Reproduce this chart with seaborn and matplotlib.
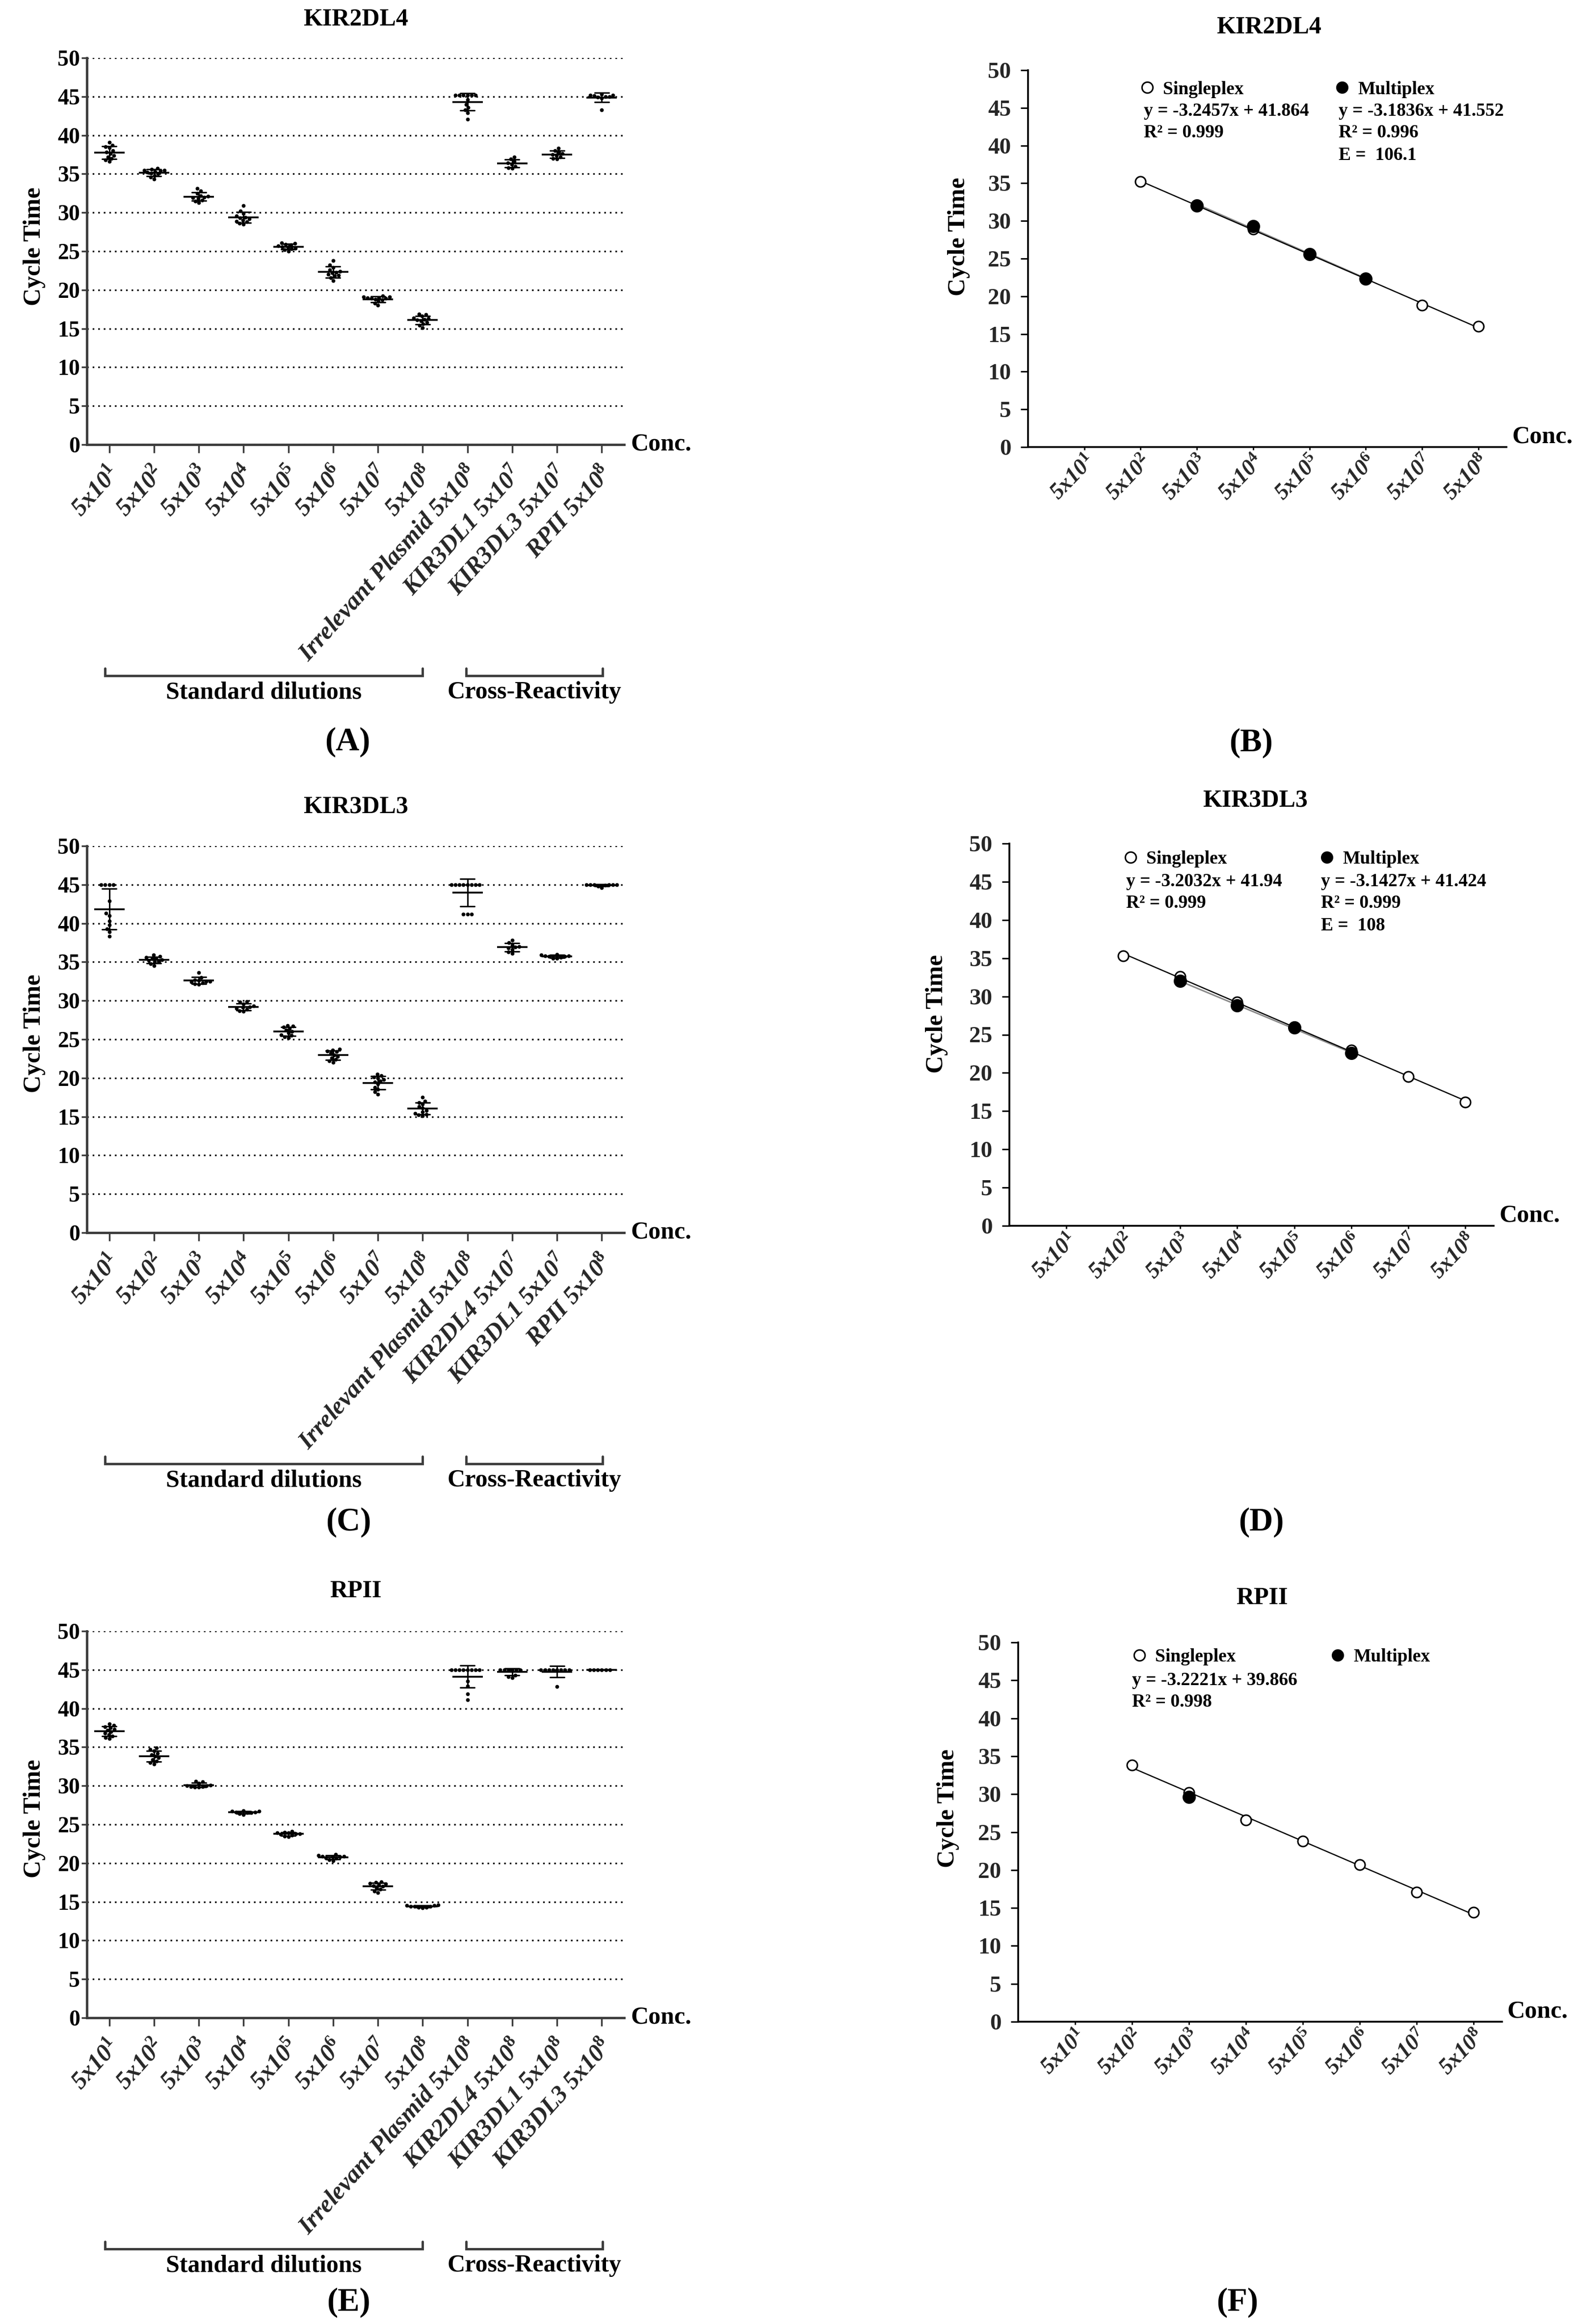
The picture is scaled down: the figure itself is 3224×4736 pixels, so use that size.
import numpy as np
import pandas as pd
import matplotlib
matplotlib.use("Agg")
import matplotlib.pyplot as plt
import matplotlib.transforms as mtransforms
from matplotlib.lines import Line2D
import seaborn as sns

# ------------------------------------------------------------------ data
std_labels = ['5x10$^{1}$', '5x10$^{2}$', '5x10$^{3}$', '5x10$^{4}$',
              '5x10$^{5}$', '5x10$^{6}$', '5x10$^{7}$', '5x10$^{8}$']
cross_A = ['Irrelevant Plasmid 5x10$^{8}$', 'KIR3DL1 5x10$^{7}$',
           'KIR3DL3 5x10$^{7}$', 'RPII 5x10$^{8}$']
cross_C = ['Irrelevant Plasmid 5x10$^{8}$', 'KIR2DL4 5x10$^{7}$',
           'KIR3DL1 5x10$^{7}$', 'RPII 5x10$^{8}$']
cross_E = ['Irrelevant Plasmid 5x10$^{8}$', 'KIR2DL4 5x10$^{8}$',
           'KIR3DL1 5x10$^{8}$', 'KIR3DL3 5x10$^{8}$']

# replicate Ct values (panel A: KIR2DL4)
reps_A = [
    [39.1, 38.7, 38.5, 38.4, 38.0, 37.8, 37.6, 37.4, 37.2, 37.0, 36.8, 36.6],
    [35.7, 35.6, 35.5, 35.5, 35.4, 35.3, 35.2, 35.1, 35.0, 34.8, 34.6, 34.3],
    [33.1, 32.8, 32.5, 32.2, 32.1, 32.0, 31.9, 31.8, 31.6, 31.5, 31.3],
    [30.9, 30.2, 29.9, 29.6, 29.4, 29.3, 29.2, 29.0, 28.9, 28.8, 28.6, 28.5],
    [26.1, 26.0, 25.9, 25.8, 25.7, 25.6, 25.5, 25.4, 25.3, 25.2, 25.0],
    [23.8, 23.2, 22.9, 22.6, 22.4, 22.3, 22.2, 22.0, 21.9, 21.8, 21.6, 21.2],
    [19.2, 19.1, 19.1, 19.0, 19.0, 18.9, 18.9, 18.8, 18.7, 18.5, 18.3, 18.0],
    [16.9, 16.8, 16.6, 16.4, 16.3, 16.2, 16.1, 16.0, 15.8, 15.6, 15.4, 15.1],
    [45.2, 45.2, 45.2, 45.2, 45.2, 45.2, 44.6, 44.0, 43.6, 43.3, 42.9, 42.1],
    [37.2, 36.9, 36.6, 36.4, 36.2, 36.0, 35.8, 35.7],
    [38.3, 38.0, 37.8, 37.6, 37.5, 37.4, 37.2, 37.0, 36.9],
    [45.3, 45.2, 45.2, 45.1, 45.0, 45.0, 44.9, 44.8, 43.3],
]
# panel C: KIR3DL3
reps_C = [
    [45.0, 45.0, 45.0, 45.0, 42.9, 41.3, 41.0, 40.3, 39.8, 39.3, 38.9, 38.3],
    [35.9, 35.7, 35.6, 35.5, 35.4, 35.3, 35.2, 35.1, 35.0, 34.8, 34.5],
    [33.6, 33.0, 32.7, 32.6, 32.5, 32.5, 32.4, 32.3, 32.2, 32.1],
    [29.9, 29.8, 29.6, 29.3, 29.2, 29.1, 29.0, 28.9, 28.7, 28.6],
    [26.8, 26.7, 26.6, 26.4, 26.2, 26.0, 25.8, 25.6, 25.5, 25.3, 25.2],
    [23.7, 23.6, 23.5, 23.4, 23.2, 23.0, 22.8, 22.6, 22.4, 22.2, 22.0],
    [20.5, 20.3, 20.1, 20.0, 19.8, 19.6, 19.5, 19.2, 18.8, 18.5, 18.2, 17.9],
    [17.5, 17.0, 16.8, 16.6, 16.3, 16.1, 15.8, 15.6, 15.4, 15.3, 15.2, 15.1],
    [45.0, 45.0, 45.0, 45.0, 45.0, 45.0, 45.0, 45.0, 41.2, 41.2, 41.2],
    [37.8, 37.5, 37.2, 37.0, 36.9, 36.8, 36.6, 36.3, 36.1],
    [36.0, 35.9, 35.8, 35.8, 35.7, 35.7, 35.6, 35.5, 35.5],
    [45.0, 45.0, 45.0, 45.0, 45.0, 45.0, 44.9, 44.8, 44.6],
]
# panel E: RPII
reps_E = [
    [38.0, 37.8, 37.6, 37.5, 37.3, 37.2, 37.0, 36.8, 36.6, 36.4, 36.2, 36.1],
    [34.9, 34.7, 34.5, 34.2, 34.0, 33.8, 33.6, 33.4, 33.2, 33.0, 32.8],
    [30.6, 30.5, 30.3, 30.1, 30.0, 30.0, 29.9, 29.9, 29.8, 29.8],
    [26.8, 26.7, 26.7, 26.6, 26.6, 26.5, 26.5, 26.4, 26.3],
    [24.1, 24.0, 23.9, 23.9, 23.8, 23.8, 23.7, 23.6, 23.5, 23.4],
    [21.1, 21.0, 20.9, 20.9, 20.8, 20.8, 20.7, 20.6, 20.4, 20.3],
    [17.6, 17.5, 17.4, 17.3, 17.2, 17.1, 17.0, 16.8, 16.6, 16.4, 16.2],
    [14.6, 14.5, 14.5, 14.4, 14.4, 14.4, 14.3, 14.3, 14.2],
    [45.0, 45.0, 45.0, 45.0, 45.0, 45.0, 45.0, 45.0, 43.5, 42.9, 41.9, 41.1],
    [45.0, 45.0, 45.0, 45.0, 45.0, 45.0, 44.3, 44.1, 44.0],
    [45.0, 45.0, 45.0, 45.0, 45.0, 45.0, 45.0, 45.0, 42.8],
    [45.0, 45.0, 45.0, 45.0, 45.0, 45.0],
]

# standard curves (x = exponent of 5x10^x)
curve_x = [1, 2, 3, 4, 5, 6, 7, 8]
B_xs = [2, 3, 4, 5, 6, 7, 8]
B_single = [35.2, 32.1, 28.9, 25.6, 22.3, 18.8, 16.0]
B_xm = [3, 4, 5, 6]
B_multi = [32.0, 29.3, 25.6, 22.3]
D_xs = [2, 3, 4, 5, 6, 7, 8]
D_single = [35.3, 32.6, 29.3, 26.0, 23.0, 19.5, 16.2]
D_xm = [3, 4, 5, 6]
D_multi = [32.0, 28.8, 25.9, 22.6]
F_xs = [2, 3, 4, 5, 6, 7, 8]
F_single = [33.8, 30.2, 26.6, 23.8, 20.7, 17.1, 14.4]
F_xm = [3]
F_multi = [29.6]

B_eq_single = ['y = -3.2457x + 41.864', 'R² = 0.999']
B_eq_multi = ['y = -3.1836x + 41.552', 'R² = 0.996', 'E =  106.1']
D_eq_single = ['y = -3.2032x + 41.94', 'R² = 0.999']
D_eq_multi = ['y = -3.1427x + 41.424', 'R² = 0.999', 'E =  108']
F_eq_single = ['y = -3.2221x + 39.866', 'R² = 0.998']
F_eq_multi = []

# ------------------------------------------------------------------ style
W, H, DPI = 3224, 4736, 100
sns.set_theme(style="white")
plt.rcParams['font.family'] = ['Liberation Serif', 'DejaVu Serif']
plt.rcParams['font.weight'] = 'bold'
plt.rcParams['mathtext.fontset'] = 'custom'
plt.rcParams['mathtext.rm'] = 'Liberation Serif'
plt.rcParams['mathtext.it'] = 'Liberation Serif:italic'
plt.rcParams['mathtext.bf'] = 'Liberation Serif:bold'
plt.rcParams['text.color'] = 'black'

fig = plt.figure(figsize=(W / DPI, H / DPI), dpi=DPI)
fig.patch.set_facecolor('white')


def rect(l, r, t, b):
    return [l / W, 1 - b / H, (r - l) / W, (b - t) / H]


def ftext(x, y, s, **kw):
    fig.text(x / W, 1 - y / H, s, **kw)


AX_GREY = '#3c3c3c'


def dot_panel(box, cats, reps, title, title_xy, ylab_xy, letter, letter_xy):
    l, r, t, b = box
    ax = fig.add_axes(rect(l, r, t, b))
    rows = [(c, v) for c, vals in zip(cats, reps) for v in vals]
    df = pd.DataFrame(rows, columns=['cat', 'ct'])
    sns.swarmplot(data=df, x='cat', y='ct', order=cats, color='black',
                  size=5.6, ax=ax, zorder=2)
    sns.pointplot(data=df, x='cat', y='ct', order=cats, errorbar='sd',
                  capsize=0.32, color='black', markers='_', linestyles='none',
                  markersize=44, markeredgewidth=2.6, linewidth=2.2,
                  err_kws={'linewidth': 2.2, 'zorder': 4}, zorder=4, ax=ax)
    ax.set_xlim(-0.5, len(cats) - 0.5)
    ax.set_ylim(0, 50)
    ax.set_yticks(np.arange(0, 51, 5))
    ax.set_xlabel('')
    ax.set_ylabel('')
    ax.yaxis.grid(True, color='black', linestyle=(0, (1, 2.4)), linewidth=2.4)
    ax.xaxis.grid(False)
    ax.set_axisbelow(True)
    for s in ['top', 'right']:
        ax.spines[s].set_visible(False)
    for s in ['left', 'bottom']:
        ax.spines[s].set_color(AX_GREY)
        ax.spines[s].set_linewidth(3.5)
        ax.spines[s].set_zorder(5)
    ax.tick_params(axis='y', left=True, direction='out', length=8, width=2.5,
                   color=AX_GREY, labelsize=33, pad=2, labelcolor='black')
    ax.tick_params(axis='x', bottom=True, direction='out', length=12, width=2.5,
                   color=AX_GREY, pad=14)
    ax.set_xticks(range(len(cats)))
    ax.set_xticklabels(cats, rotation=48, ha='right', va='top',
                       rotation_mode='anchor', fontsize=36, fontstyle='italic',
                       fontweight='bold')
    off = mtransforms.ScaledTranslation(-5 / DPI, 0, fig.dpi_scale_trans)
    for lab in ax.get_xticklabels():
        lab.set_transform(lab.get_transform() + off)
    ax.text(1 + 14 / (r - l), 0, 'Conc.', transform=ax.transAxes,
            ha='left', va='center', fontsize=36, fontweight='bold')
    # group brackets under the axis
    tr = ax.get_xaxis_transform()
    groups = [(0 - 0.1, 7.0, 'Standard dilutions'),
              (8 - 0.03, 11.02, 'Cross-Reactivity')]
    yb, ye = -0.598, -0.579
    for x0, x1, lab in groups:
        ax.plot([x0, x0, x1, x1], [ye, yb, yb, ye], transform=tr, color=AX_GREY,
                linewidth=3.5, clip_on=False, solid_joinstyle='miter')
        ax.text((x0 + x1) / 2, -0.641, lab, transform=tr, ha='center',
                va='center', fontsize=36, fontweight='bold')
    ftext(*title_xy, title, ha='center', va='center', fontsize=36, fontweight='bold')
    ftext(*ylab_xy, 'Cycle Time', ha='center', va='center', rotation=90,
          fontsize=36, fontweight='bold')
    ftext(*letter_xy, letter, ha='center', va='center', fontsize=48, fontweight='bold')
    return ax


def curve_panel(box, xs, ys, xm, ym, eq_s, eq_m, title, title_xy, ylab_xy,
                letter, letter_xy, leg_y, mk1_x, mk2_x, eq1_x, eq2_x, eq_ys):
    l, r, t, b = box
    ax = fig.add_axes(rect(l, r, t, b))
    sns.regplot(x=np.array(xs, float), y=np.array(ys, float), ci=None,
                scatter=False, truncate=True, color='black',
                line_kws={'linewidth': 1.8, 'zorder': 2}, ax=ax)
    if len(xm) > 1:
        sns.regplot(x=np.array(xm, float), y=np.array(ym, float), ci=None,
                    scatter=False, truncate=True, color='#8a8a8a',
                    line_kws={'linewidth': 2.2, 'zorder': 1.5}, ax=ax)
    sns.scatterplot(x=xs, y=ys, marker='o', s=230, color='white',
                    edgecolor='black', linewidth=2.2, zorder=3, ax=ax, legend=False)
    sns.scatterplot(x=xm, y=ym, marker='o', s=340, color='black',
                    edgecolor='black', linewidth=1.0, zorder=4, ax=ax, legend=False)
    ax.set_xlim(0, 8.5)
    ax.set_ylim(0, 50)
    ax.set_yticks(np.arange(0, 51, 5))
    ax.set_xticks(curve_x)
    ax.set_xticklabels(std_labels, rotation=46, ha='right', va='top',
                       rotation_mode='anchor', fontsize=33, fontstyle='italic',
                       fontweight='bold')
    off = mtransforms.ScaledTranslation(22 / DPI, 0, fig.dpi_scale_trans)
    for lab in ax.get_xticklabels():
        lab.set_transform(lab.get_transform() + off)
    ax.set_xlabel('')
    ax.set_ylabel('')
    ax.grid(False)
    for s in ['top', 'right']:
        ax.spines[s].set_visible(False)
    for s in ['left', 'bottom']:
        ax.spines[s].set_color('black')
        ax.spines[s].set_linewidth(2.6)
    ax.tick_params(axis='y', left=True, direction='out', length=11, width=2.2,
                   color='black', labelsize=34, pad=14)
    ax.tick_params(axis='x', bottom=True, direction='out', length=4, width=2,
                   color='black', pad=3)
    ax.text(1 + 11 / (r - l), 8 / (b - t), 'Conc.', transform=ax.transAxes,
            ha='left', va='baseline', fontsize=36, fontweight='bold')
    # legend entries
    fs = 27
    fs_px = fs * DPI / 72
    hl = 1.0
    pad = (70 - hl * fs_px / 2) / fs_px - hl
    h_open = Line2D([], [], marker='o', linestyle='none', markersize=16,
                    markerfacecolor='white', markeredgecolor='black',
                    markeredgewidth=2.2)
    h_fill = Line2D([], [], marker='o', linestyle='none', markersize=17,
                    markerfacecolor='black', markeredgecolor='black')
    legs = []
    for h, lab, mx in [(h_open, 'Singleplex', mk1_x), (h_fill, 'Multiplex', mk2_x)]:
        lg = ax.legend(handles=[h], labels=[lab], loc='center left',
                       bbox_to_anchor=((mx - hl * fs_px / 2) / W, 1 - leg_y / H),
                       bbox_transform=fig.transFigure, frameon=False,
                       borderpad=0, borderaxespad=0, handlelength=hl,
                       handletextpad=pad,
                       prop={'family': ['Liberation Serif'], 'weight': 'bold',
                             'size': fs})
        legs.append(lg)
    ax.add_artist(legs[0])
    for lines, x0 in [(eq_s, eq1_x), (eq_m, eq2_x)]:
        for s, yy in zip(lines, eq_ys):
            ftext(x0, yy, s, ha='left', va='center', fontsize=fs, fontweight='bold')
    ftext(*title_xy, title, ha='center', va='center', fontsize=36, fontweight='bold')
    ftext(*ylab_xy, 'Cycle Time', ha='center', va='center', rotation=90,
          fontsize=36, fontweight='bold')
    ftext(*letter_xy, letter, ha='center', va='center', fontsize=48, fontweight='bold')
    return ax


# ------------------------------------------------------------------ panels
dot_panel((177, 1272, 118, 906), std_labels + cross_A, reps_A, 'KIR2DL4',
          (725, 40), (70, 502), '(A)', (708, 1512))
dot_panel((177, 1272, 1724, 2512), std_labels + cross_C, reps_C, 'KIR3DL3',
          (725, 1645), (70, 2106), '(C)', (710, 3102))
dot_panel((177, 1272, 3324, 4112), std_labels + cross_E, reps_E, 'RPII',
          (725, 3243), (70, 3706), '(E)', (710, 4692))

curve_panel((2095, 3070, 143, 911), B_xs, B_single, B_xm, B_multi,
            B_eq_single, B_eq_multi, 'KIR2DL4', (2586, 56), (1954, 482),
            '(B)', (2550, 1514), 182, 2338, 2735, 2331, 2728, [226, 271, 316])
curve_panel((2057, 3044, 1719, 2498), D_xs, D_single, D_xm, D_multi,
            D_eq_single, D_eq_multi, 'KIR3DL3', (2558, 1631), (1909, 2066),
            '(D)', (2570, 3102), 1751, 2304, 2704, 2295, 2692, [1797, 1841, 1886])
curve_panel((2075, 3061, 3347, 4120), F_xs, F_single, F_xm, F_multi,
            F_eq_single, F_eq_multi, 'RPII', (2572, 3257), (1932, 3685),
            '(F)', (2522, 4692), 3377, 2322, 2726, 2307, 2720, [3424, 3468])

fig.savefig('out.png', dpi=DPI, facecolor='white')
